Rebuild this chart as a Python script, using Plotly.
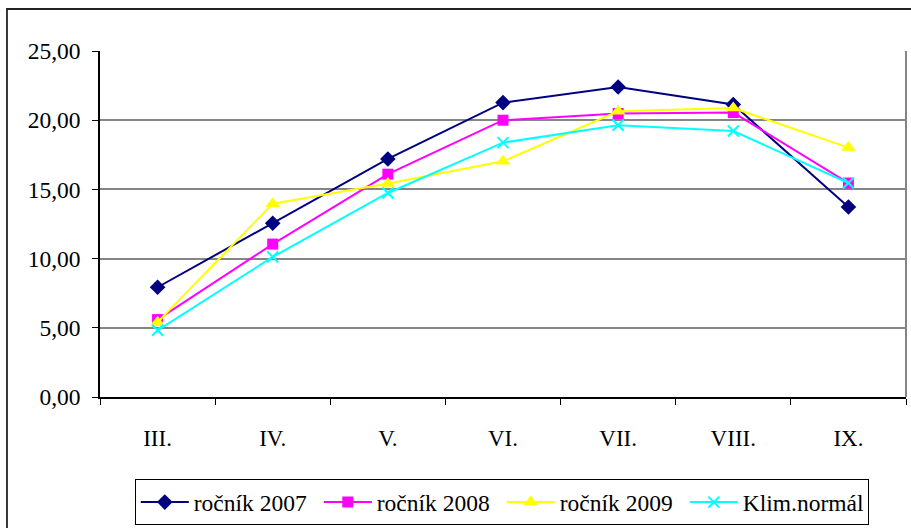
import plotly.graph_objects as go

# Months (Roman numerals) and monthly values per season
months = ["III.", "IV.", "V.", "VI.", "VII.", "VIII.", "IX."]
rocnik_2007 = [7.93, 12.55, 17.20, 21.27, 22.40, 21.13, 13.73]
rocnik_2008 = [5.59, 11.05, 16.10, 20.00, 20.48, 20.55, 15.46]
rocnik_2009 = [5.40, 13.97, 15.42, 17.03, 20.64, 20.88, 18.02]
klim_normal = [4.82, 10.12, 14.74, 18.38, 19.63, 19.22, 15.46]

series = [
    ("ročník 2007", rocnik_2007, "#000080", "diamond", 12, 0),
    ("ročník 2008", rocnik_2008, "#FF00FF", "square", 11, 0),
    ("ročník 2009", rocnik_2009, "#FFFF00", "triangle-up", 13, 0),
    ("Klim.normál", klim_normal, "#00FFFF", "x-thin", 11, 2),
]

FONT = "Liberation Serif, Times New Roman, serif"

fig = go.Figure()
for name, vals, color, symbol, size, mlw in series:
    fig.add_trace(go.Scatter(
        x=months, y=vals, name=name, mode="lines+markers",
        line=dict(color=color, width=2),
        marker=dict(symbol=symbol, size=size, color=color,
                    line=dict(color=color, width=mlw)),
    ))

fig.update_layout(
    width=911, height=528,
    margin=dict(l=100, r=5, t=51, b=131, autoexpand=False),
    paper_bgcolor="white", plot_bgcolor="white",
    separators=", ",
    font=dict(family=FONT, size=23, color="black"),
    showlegend=True,
    legend=dict(
        orientation="h", x=0.4985, xanchor="center", y=-0.238, yanchor="top",
        bordercolor="black", borderwidth=1,
        font=dict(family=FONT, size=23.5, color="black"),
        itemwidth=48, entrywidth=120, entrywidthmode="pixels",
        tracegroupgap=0,
    ),
)

fig.update_xaxes(
    type="category", range=[-0.5, 6.5], showgrid=False, zeroline=False,
    showline=True, linecolor="black", linewidth=1.5,
    ticks="outside", ticklen=6, tickcolor="black", tickwidth=1,
    tickson="boundaries", ticklabelstandoff=20,
    tickfont=dict(family=FONT, size=23),
)
fig.update_yaxes(
    range=[0, 25], dtick=5, tickformat=".2f",
    showgrid=True, gridcolor="#858585", gridwidth=2,
    zeroline=False, showline=True, linecolor="black", linewidth=1.5,
    ticks="outside", ticklen=6, tickcolor="black", tickwidth=1,
    ticklabelstandoff=7,
    tickfont=dict(family=FONT, size=23.5),
)

# right edge of the plot area
fig.add_shape(type="line", xref="paper", yref="paper",
              x0=1, x1=1, y0=0, y1=1, line=dict(color="#858585", width=2))
# outer chart frame
fig.add_shape(type="rect", xref="paper", yref="paper",
              x0=-0.1154, x1=1.2, y0=-0.6, y1=1.1214,
              line=dict(color="#222222", width=1.8), layer="below")

fig.write_html("out.html")
